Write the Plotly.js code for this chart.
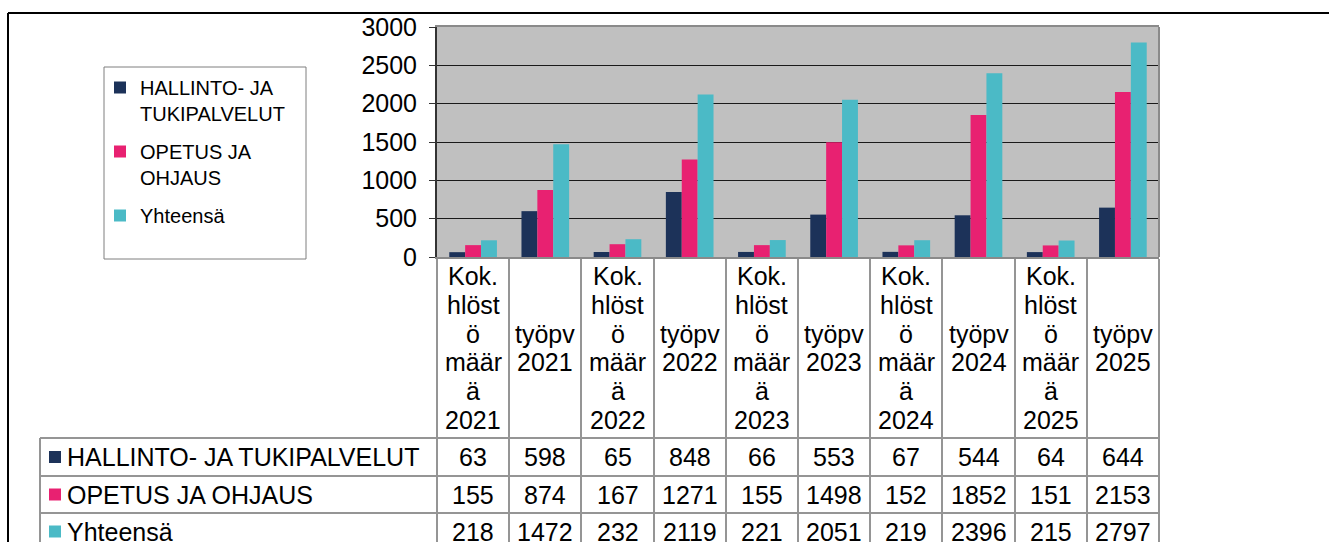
<!DOCTYPE html>
<html>
<head>
<meta charset="utf-8">
<script src="https://cdn.plot.ly/plotly-3.0.1.min.js"></script>
<style>
  html, body { margin: 0; padding: 0; background: #ffffff; }
  #chart { width: 1329px; height: 542px; }
</style>
</head>
<body>
<div id="chart"></div>
<script>
// ---------- data ----------
const categories = [
  'Kok. hlöstö määrä 2021', 'työpv 2021',
  'Kok. hlöstö määrä 2022', 'työpv 2022',
  'Kok. hlöstö määrä 2023', 'työpv 2023',
  'Kok. hlöstö määrä 2024', 'työpv 2024',
  'Kok. hlöstö määrä 2025', 'työpv 2025'
];
const headerLabels = [
  'Kok.\nhlöst\nö\nmäär\nä\n2021', 'työpv\n2021',
  'Kok.\nhlöst\nö\nmäär\nä\n2022', 'työpv\n2022',
  'Kok.\nhlöst\nö\nmäär\nä\n2023', 'työpv\n2023',
  'Kok.\nhlöst\nö\nmäär\nä\n2024', 'työpv\n2024',
  'Kok.\nhlöst\nö\nmäär\nä\n2025', 'työpv\n2025'
];
const hallinto = [63, 598, 65, 848, 66, 553, 67, 544, 64, 644];
const opetus   = [155, 874, 167, 1271, 155, 1498, 152, 1852, 151, 2153];
const yhteensa = [218, 1472, 232, 2119, 221, 2051, 219, 2396, 215, 2797];
const seriesNames  = ['HALLINTO- JA TUKIPALVELUT', 'OPETUS JA OHJAUS', 'Yhteensä'];
const legendLabels = ['HALLINTO- JA<br>TUKIPALVELUT', 'OPETUS JA<br>OHJAUS', 'Yhteensä'];
const seriesValues = [hallinto, opetus, yhteensa];
const yTickVals = [0, 500, 1000, 1500, 2000, 2500, 3000];

// ---------- styles / layout geometry ----------
const colors = ['#1c3259', '#e82171', '#4bbac6'];
const FONT = 'Liberation Sans, Arial, sans-serif';
const TXT = 25;
const W = 1329, H = 542;
const plotL = 437, plotR = 1159, plotT = 27, plotB = 257;
const px2x = px => (px - plotL) / (plotR - plotL);
const py2y = py => (plotB - py) / (plotB - plotT);
const gridGray = '#959595';

const traces = seriesValues.map((vals, k) => ({
  type: 'bar',
  x: categories,
  y: vals,
  name: legendLabels[k],
  legendgroup: 'g' + k,
  marker: { color: colors[k], line: { width: 0 } },
  hoverinfo: 'x+y'
}));

const annotations = [];
const shapes = [];

// header labels (one annotation per line)
const headerCenter = 348, headerLH = 28.7;
headerLabels.forEach((lbl, i) => {
  const lines = lbl.split('\n');
  lines.forEach((ln, j) => {
    const cy = headerCenter + (j - (lines.length - 1) / 2) * headerLH;
    annotations.push({
      xref: 'x', yref: 'paper', x: categories[i], y: py2y(cy),
      text: ln, showarrow: false, xanchor: 'center', yanchor: 'middle',
      font: { family: FONT, size: TXT, color: '#000' }
    });
  });
});

// data table rows
const rowTops = [438, 476, 513, 550];
seriesValues.forEach((vals, r) => {
  const cy = (rowTops[r] + rowTops[r + 1]) / 2;
  vals.forEach((v, i) => {
    annotations.push({
      xref: 'x', yref: 'paper', x: categories[i], y: py2y(cy),
      text: String(v), showarrow: false, xanchor: 'center', yanchor: 'middle',
      font: { family: FONT, size: TXT, color: '#000' }
    });
  });
  annotations.push({
    xref: 'paper', yref: 'paper', x: px2x(65), y: py2y(cy),
    text: seriesNames[r], showarrow: false, xanchor: 'left', yanchor: 'middle',
    font: { family: FONT, size: TXT, color: '#000' }
  });
  shapes.push({
    type: 'rect', xref: 'paper', yref: 'paper',
    x0: px2x(49), x1: px2x(61), y0: py2y(cy - 6), y1: py2y(cy + 6),
    fillcolor: colors[r], line: { width: 0 }
  });
});

// table horizontal lines
rowTops.slice(0, 3).forEach(py => {
  shapes.push({
    type: 'line', xref: 'paper', yref: 'paper',
    x0: px2x(40), x1: 1, y0: py2y(py), y1: py2y(py),
    line: { color: gridGray, width: 2 }
  });
});
// table left edge
shapes.push({
  type: 'line', xref: 'paper', yref: 'paper',
  x0: px2x(40), x1: px2x(40), y0: py2y(438), y1: py2y(H + 5),
  line: { color: gridGray, width: 2 }
});
// plot area right border
shapes.push({
  type: 'line', xref: 'paper', yref: 'paper',
  x0: 1, x1: 1, y0: 0, y1: 1,
  line: { color: '#8a8a8a', width: 2 }
});
// legend box
shapes.push({
  type: 'rect', xref: 'paper', yref: 'paper',
  x0: px2x(104), x1: px2x(306), y0: py2y(259), y1: py2y(67),
  line: { color: '#7f7f7f', width: 1 }, fillcolor: 'rgba(0,0,0,0)'
});
// outer chart border (top and left)
shapes.push({
  type: 'line', xref: 'paper', yref: 'paper',
  x0: px2x(8), x1: px2x(W + 5), y0: py2y(13), y1: py2y(13),
  line: { color: '#000', width: 2 }
});
shapes.push({
  type: 'line', xref: 'paper', yref: 'paper',
  x0: px2x(8), x1: px2x(8), y0: py2y(13), y1: py2y(H + 5),
  line: { color: '#000', width: 2 }
});

const layout = {
  width: W, height: H,
  margin: { l: plotL, r: W - plotR, t: plotT, b: H - plotB, pad: 0 },
  paper_bgcolor: '#ffffff',
  plot_bgcolor: '#c0c0c0',
  barmode: 'group',
  bargap: 0.34,
  bargroupgap: 0,
  font: { family: FONT, size: TXT, color: '#000' },
  showlegend: true,
  legend: {
    x: px2x(100), y: py2y(68), xanchor: 'left', yanchor: 'top',
    bgcolor: 'rgba(0,0,0,0)', borderwidth: 0,
    font: { family: FONT, size: 20, color: '#000' },
    traceorder: 'grouped', tracegroupgap: 9, valign: 'top', itemwidth: 30
  },
  xaxis: {
    type: 'category',
    categoryorder: 'array', categoryarray: categories,
    showticklabels: false,
    ticks: 'outside', tickson: 'boundaries', ticklen: H - plotB + 10,
    tickcolor: gridGray, tickwidth: 2,
    showline: true, mirror: true, linecolor: '#8a8a8a', linewidth: 2,
    showgrid: false, zeroline: false, fixedrange: true
  },
  yaxis: {
    range: [0, 3000], tickvals: yTickVals, ticktext: yTickVals.map(String),
    ticks: 'outside', ticklen: 6, tickcolor: '#333', tickwidth: 1,
    ticklabelstandoff: 7,
    tickfont: { family: FONT, size: TXT, color: '#000' },
    showline: true, linecolor: '#333', linewidth: 2,
    showgrid: true, gridcolor: '#1a1a1a', gridwidth: 1,
    zeroline: false, fixedrange: true
  },
  annotations: annotations,
  shapes: shapes
};

Plotly.newPlot('chart', traces, layout, { displayModeBar: false, staticPlot: true });
</script>
</body>
</html>
